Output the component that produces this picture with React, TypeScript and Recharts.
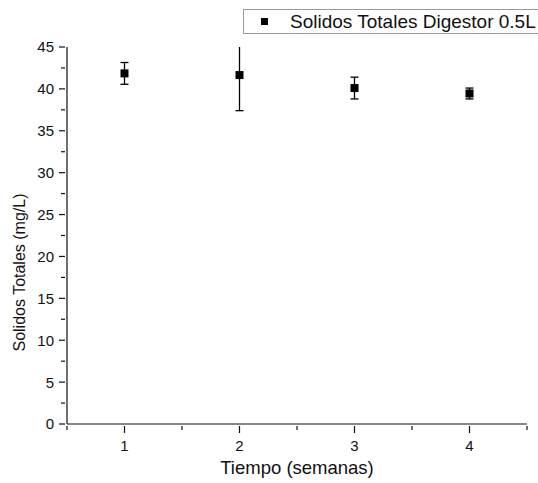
import { ScatterChart, Scatter, XAxis, YAxis, ErrorBar, Label } from "recharts";

const weeks = [1, 2, 3, 4];
const solids = [41.85, 41.65, 40.1, 39.45];
const solidsErr = [1.3, 4.25, 1.3, 0.65];

const xTicks = [0.5, 1, 1.5, 2, 2.5, 3, 3.5, 4, 4.5];
const yTicks = [0, 2.5, 5, 7.5, 10, 12.5, 15, 17.5, 20, 22.5, 25, 27.5, 30, 32.5, 35, 37.5, 40, 42.5, 45];

const seriesName = "Solidos Totales Digestor 0.5L";

const data = weeks.map((w, i) => ({ week: w, value: solids[i], err: solidsErr[i] }));

const FONT = 'Arial, "Liberation Sans", sans-serif';

const XTick = ({ x, y, payload }: any) => {
  const major = Number.isInteger(payload.value);
  return (
    <g>
      <line x1={x} y1={y} x2={x} y2={y + (major ? 7 : 4)} stroke="#111" strokeWidth={1.2} />
      {major && (
        <text x={x} y={y + 25} textAnchor="middle" fontSize={15} fill="#111" fontFamily={FONT}>
          {payload.value}
        </text>
      )}
    </g>
  );
};

const YTick = ({ x, y, payload }: any) => {
  const major = payload.value % 5 === 0;
  return (
    <g>
      <line x1={x} y1={y} x2={x - (major ? 6 : 4)} y2={y} stroke="#111" strokeWidth={1.2} />
      {major && (
        <text x={x - 11} y={y} dy="0.36em" textAnchor="end" fontSize={15} fill="#111" fontFamily={FONT}>
          {payload.value}
        </text>
      )}
    </g>
  );
};

// y title sits a bit below the plot centre in the original
const YTitle = ({ viewBox }: any) => {
  const cx = 19;
  const cy = viewBox.y + viewBox.height / 2 + 37;
  return (
    <text
      x={cx}
      y={cy}
      transform={`rotate(-90 ${cx} ${cy})`}
      textAnchor="middle"
      dy="0.35em"
      fontSize={16}
      fill="#111"
      fontFamily={FONT}
    >
      Solidos Totales (mg/L)
    </text>
  );
};

const LegendBox = () => (
  <div
    style={{
      position: "absolute",
      left: 243,
      top: 9,
      width: 320,
      height: 23,
      border: "1px solid #9a9a9a",
      background: "#fff",
      display: "flex",
      alignItems: "center",
      fontFamily: FONT,
      fontSize: 19,
      color: "#111",
    }}
  >
    <span style={{ display: "inline-block", width: 7, height: 7, background: "#000", marginLeft: 17, marginRight: 22 }} />
    <span>{seriesName}</span>
  </div>
);

export default function App() {
  return (
    <div style={{ position: "absolute", left: 0, top: 0, width: 538, height: 483, overflow: "hidden", background: "#fff" }}>
      <ScatterChart width={538} height={483} margin={{ top: 47, right: 11, bottom: 0, left: 0 }}>
        <XAxis
          type="number"
          dataKey="week"
          domain={[0.5, 4.5]}
          ticks={xTicks}
          interval={0}
          tickSize={0}
          tickLine={false}
          tick={<XTick />}
          height={59}
          axisLine={{ stroke: "#111", strokeWidth: 1.2 }}
        >
          <Label
            value="Tiempo (semanas)"
            position="insideBottom"
            offset={9}
            fontSize={18.5}
            fill="#111"
            fontFamily={FONT}
          />
        </XAxis>
        <YAxis
          type="number"
          dataKey="value"
          domain={[0, 45]}
          allowDataOverflow
          ticks={yTicks}
          interval={0}
          tickSize={0}
          tickLine={false}
          tick={<YTick />}
          width={67}
          axisLine={{ stroke: "#111", strokeWidth: 1.2 }}
        >
          <Label content={<YTitle />} />
        </YAxis>
        <Scatter data={data} fill="#000" shape="square" isAnimationActive={false}>
          <ErrorBar dataKey="err" direction="y" width={4} stroke="#000" strokeWidth={1.3} />
        </Scatter>
      </ScatterChart>
      {/* hide the part of the error bar that runs past the top of the axis */}
      <div style={{ position: "absolute", left: 69, top: 0, width: 469, height: 46.5, background: "#fff" }} />
      <LegendBox />
    </div>
  );
}
